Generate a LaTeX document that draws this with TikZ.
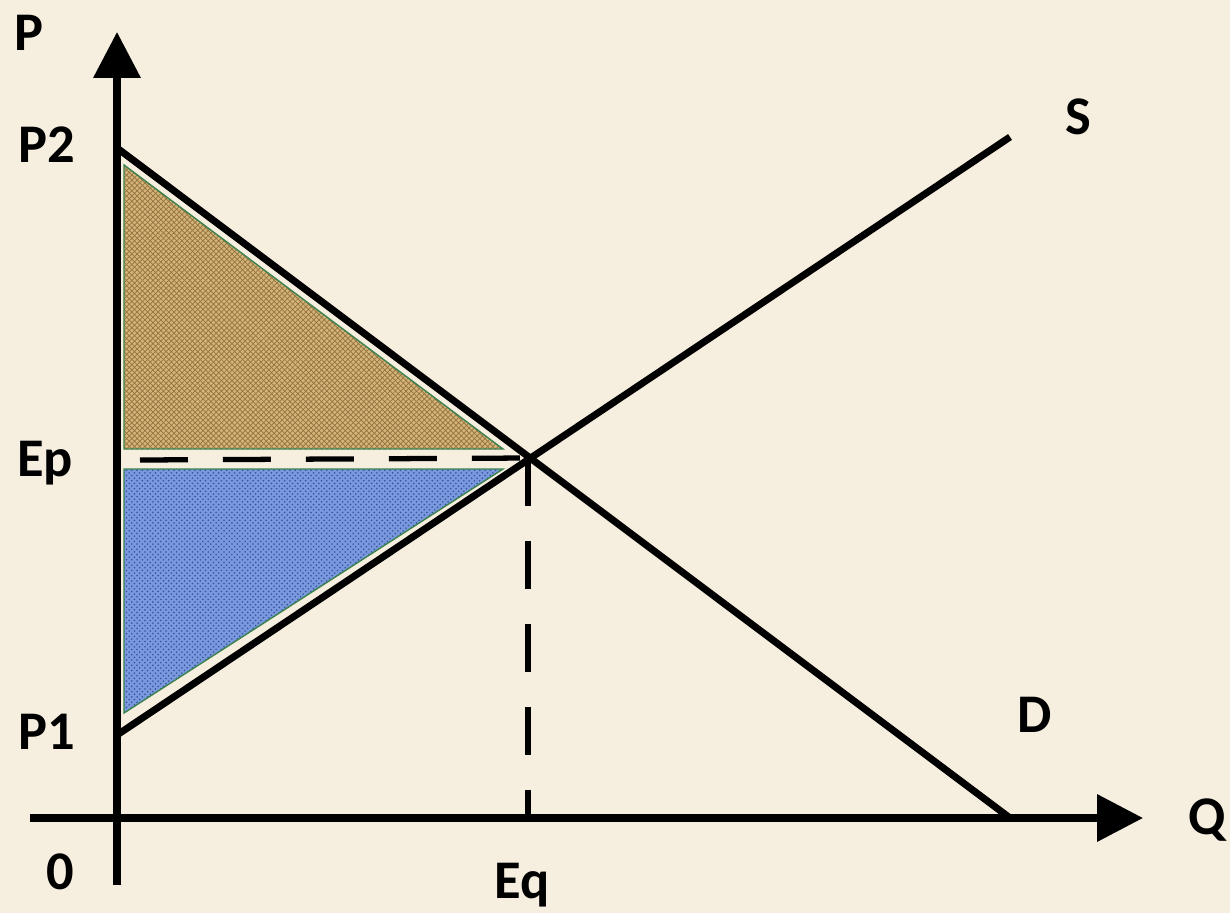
\documentclass[tikz,border=0pt]{standalone}
\usepackage{fontspec}
\setmainfont{Carlito}
\usetikzlibrary{arrows.meta,patterns}
\definecolor{paper}{RGB}{246,239,223}
\definecolor{burlap}{RGB}{212,180,120}
\definecolor{burlapdark}{RGB}{150,115,65}
\definecolor{denim}{RGB}{122,152,222}
\definecolor{denimdark}{RGB}{50,80,150}
\definecolor{edgegreen}{RGB}{60,130,80}
\tikzset{
  curve/.style={line width=4pt},
  axis/.style={line width=4pt,-{Triangle[length=0.92cm,width=0.92cm]}},
  guide/.style={line width=3pt,dash pattern=on 0.96cm off 0.7cm},
  surplus/.style={draw=edgegreen,line width=0.8pt},
  lbl/.style={font=\fontsize{31}{36}\selectfont\bfseries,inner sep=0pt}
}
\begin{document}
\begin{tikzpicture}[x=0.02cm,y=-0.02cm]

% Background
\fill[paper] (0,0) rectangle (1230,913);
\useasboundingbox (0,0) rectangle (1230,913);

% Points
\coordinate (ytop) at (117,32);
\coordinate (ybot) at (117,885);
\coordinate (xleft) at (30,818);
\coordinate (xright) at (1143,818);
\coordinate (P2) at (117,148);
\coordinate (P1) at (117,735);
\coordinate (Dend) at (1010,818);
\coordinate (Send) at (1010,137);
\coordinate (E) at (528,458);
\coordinate (Eq) at (528,818);
\coordinate (Ep) at (140,460);

% Consumer surplus
\fill[burlap] (124,165) -- (124,449) -- (503,449) -- cycle;
\fill[pattern=crosshatch,pattern color=burlapdark] (124,165) -- (124,449) -- (503,449) -- cycle;
\draw[surplus] (124,165) -- (124,449) -- (503,449) -- cycle;

% Producer surplus
\fill[denim] (124,469) -- (124,713) -- (503,469) -- cycle;
\fill[pattern=crosshatch dots,pattern color=denimdark] (124,469) -- (124,713) -- (503,469) -- cycle;
\draw[surplus] (124,469) -- (124,713) -- (503,469) -- cycle;

% Axes
\draw[axis] (ybot) -- (ytop);
\draw[axis] (xleft) -- (xright);

% Demand and supply
\draw[curve] (P2) -- (Dend);
\draw[curve] (P1) -- (Send);

% Equilibrium guides
\draw[guide] (Ep) -- (E);
\draw[guide] (E) -- (Eq);

% Labels
\node[lbl] (lP) at (29,33) {P};
\node[lbl] (lQ) at (1207,820) {Q};
\node[lbl] (lP2) at (47,145) {P2};
\node[lbl] (lEp) at (45,463) {Ep};
\node[lbl] (lP1) at (47,732) {P1};
\node[lbl] (l0) at (60,872) {0};
\node[lbl] (lEq) at (522,885) {Eq};
\node[lbl] (lS) at (1078,117) {S};
\node[lbl] (lD) at (1035,715) {D};

\end{tikzpicture}
\end{document}
